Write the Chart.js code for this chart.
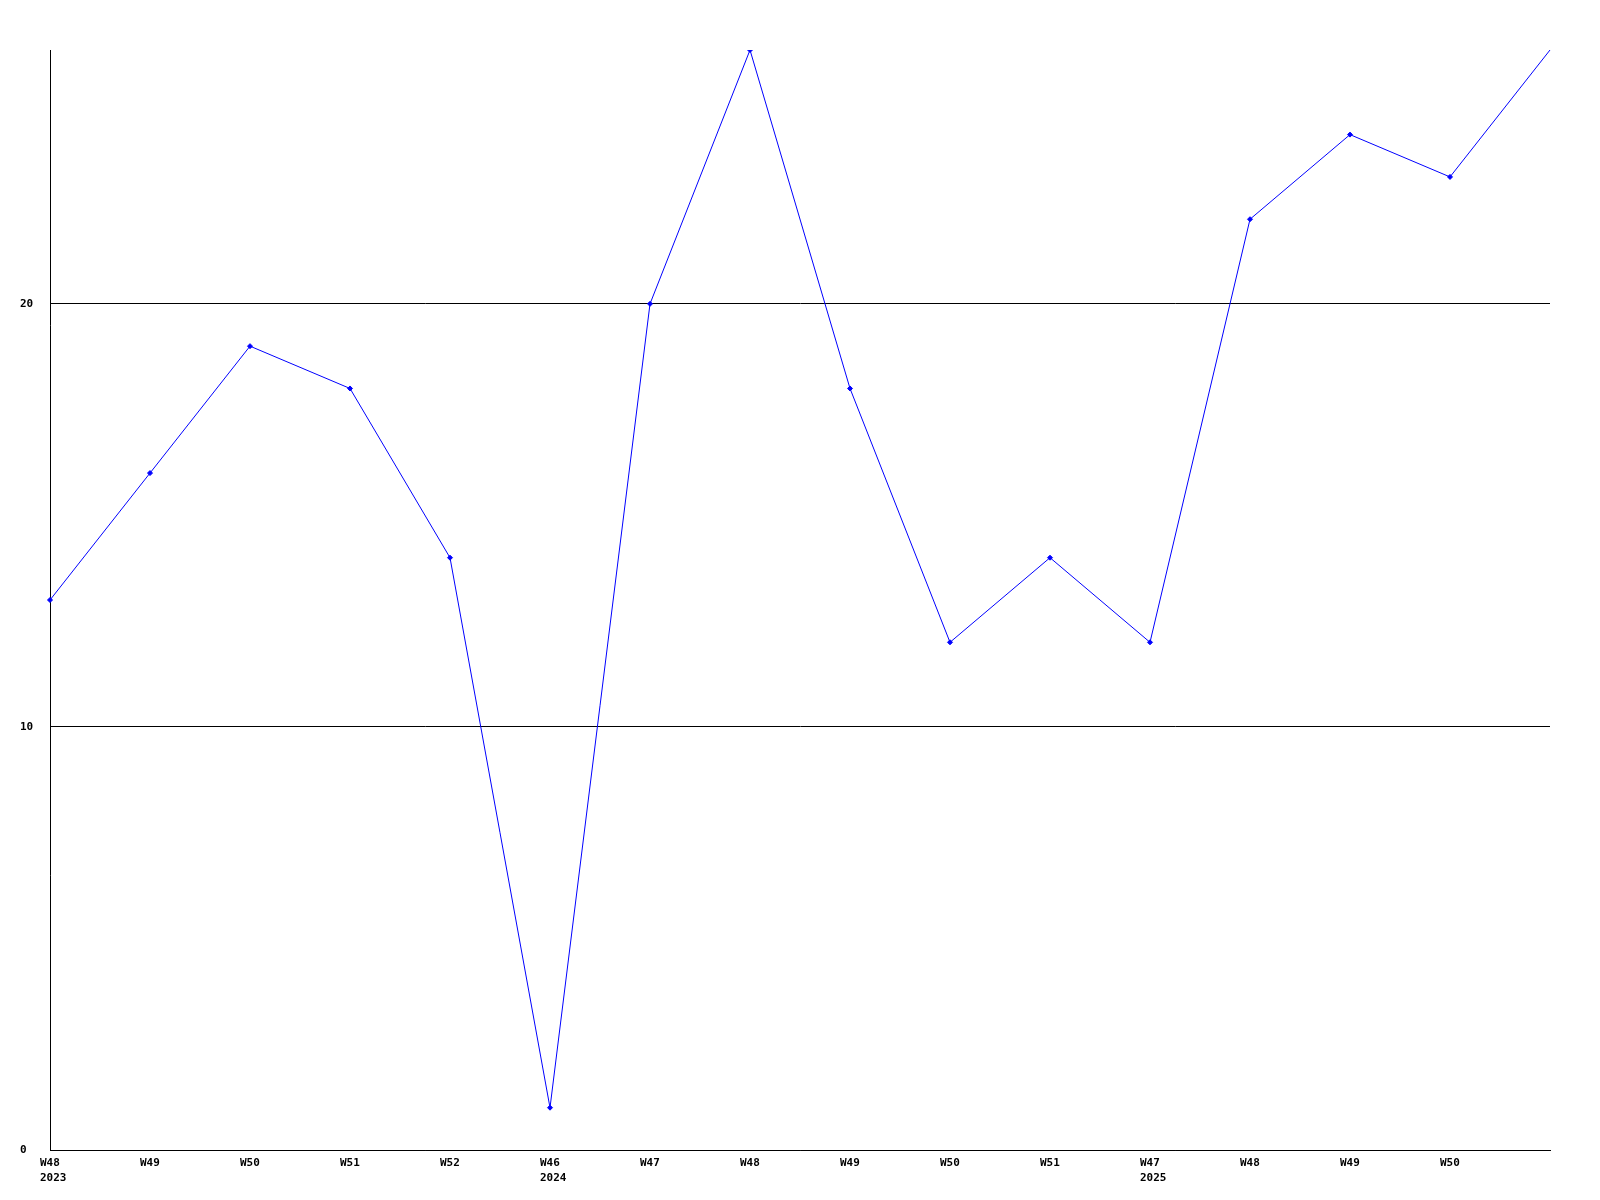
<!DOCTYPE html>
<html>
<head>
<meta charset="utf-8">
<script src="https://cdn.jsdelivr.net/npm/chart.js@4/dist/chart.umd.min.js"></script>
<style>
  html, body { margin: 0; padding: 0; background: #fff; }
  #wrap { width: 1600px; height: 1200px; }
</style>
</head>
<body>
<div id="wrap"><canvas id="chart" width="1600" height="1200"></canvas></div>
<script>
// week labels, with the year shown under the first week of each year
const weeks = ["W48", "W49", "W50", "W51", "W52", "W46", "W47", "W48", "W49", "W50", "W51", "W47", "W48", "W49", "W50", "W51"];
const years = ["2023", "", "", "", "", "2024", "", "", "", "", "", "2025", "", "", "", ""];
const values = [13, 16, 19, 18, 14, 1, 20, 26, 18, 12, 14, 12, 22, 24, 23, 26];

// build multi-line labels from the two arrays
function buildLabels() {
  let out = [];
  for (let i in weeks) {
    out.push(years[i] ? [weeks[i], years[i]] : weeks[i]);
  }
  return out;
}

const fontSpec = { family: "'DejaVu Sans Mono', monospace", size: 11, weight: "bold", lineHeight: 1.35 };

const chart = new Chart(document.getElementById("chart"), {
  type: "line",
  data: {
    labels: buildLabels(),
    datasets: [
      {
        data: values,
        borderColor: "#0000ff",
        backgroundColor: "#0000ff",
        borderWidth: 1,
        pointStyle: "rectRot",
        // last point runs off the edge without a marker
        pointRadius: values.map((v, i) => (i === values.length - 1 ? 0 : 2.5)),
        tension: 0,
        fill: false,
      },
    ],
  },
  options: {
    responsive: false,
    animation: false,
    devicePixelRatio: 1,
    layout: { padding: { left: 20, top: 50, right: 50, bottom: 0 } },
    plugins: {
      legend: { display: false },
      tooltip: { enabled: false },
    },
    scales: {
      x: {
        type: "category",
        offset: false,
        grid: { display: false, drawTicks: false },
        border: { display: true, color: "#000", width: 1 },
        ticks: {
          color: "#000",
          font: fontSpec,
          autoSkip: false,
          maxRotation: 0,
          align: "start",
          labelOffset: -10,
          padding: 6,
          callback: function (val, index) {
            if (index === weeks.length - 1) return "";
            return this.getLabelForValue(val);
          },
        },
        afterFit: (scale) => {
          scale.height = 50;
        },
      },
      y: {
        min: 0,
        max: 26,
        grid: {
          color: "#000",
          lineWidth: 1,
          drawTicks: false,
        },
        border: { display: true, color: "#000", width: 1 },
        ticks: {
          color: "#000",
          font: fontSpec,
          stepSize: 10,
          crossAlign: "far",
          padding: 0,
        },
        afterBuildTicks: (scale) => {
          scale.ticks = scale.ticks.filter((t) => t.value % 10 === 0);
        },
        afterFit: (scale) => {
          scale.width = 30;
        },
      },
    },
  },
});
</script>
</body>
</html>
